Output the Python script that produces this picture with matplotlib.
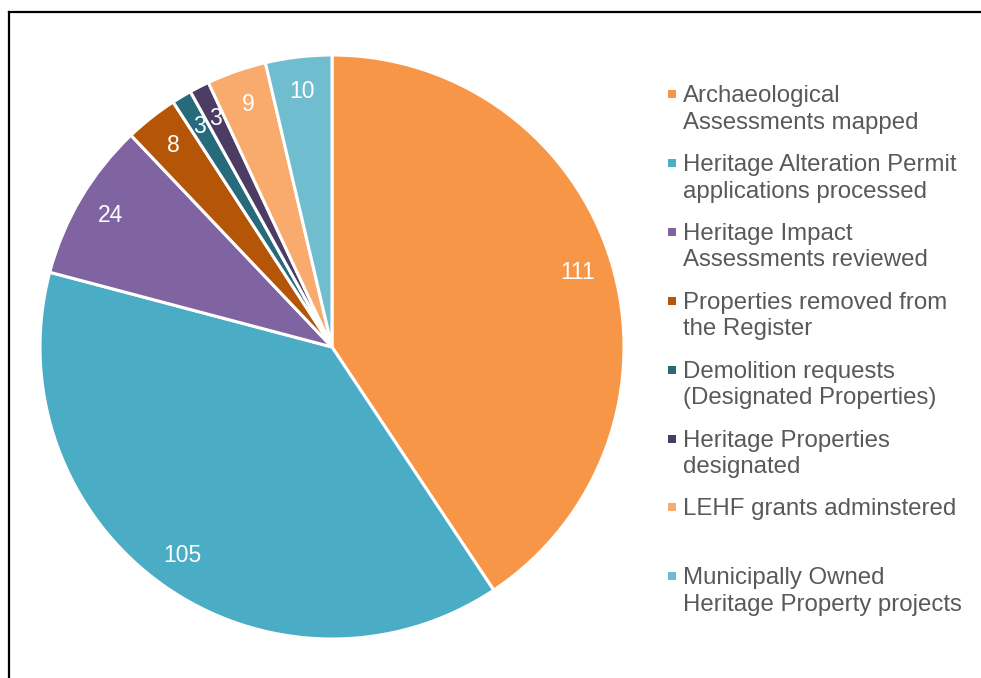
import matplotlib
matplotlib.use("Agg")
import matplotlib.pyplot as plt
from matplotlib.patches import Rectangle
from matplotlib.lines import Line2D

plt.rcParams['font.family'] = ['Liberation Sans', 'DejaVu Sans']

categories = [
    "Archaeological\nAssessments mapped",
    "Heritage Alteration Permit\napplications processed",
    "Heritage Impact\nAssessments reviewed",
    "Properties removed from\nthe Register",
    "Demolition requests\n(Designated Properties)",
    "Heritage Properties\ndesignated",
    "LEHF grants adminstered",
    "Municipally Owned\nHeritage Property projects",
]
values = [111, 105, 24, 8, 3, 3, 9, 10]
colors = ["#F79646", "#4BACC6", "#8064A2", "#B45507",
          "#276A7B", "#4C3B62", "#F8AB6D", "#71BDD0"]

W, H = 981, 678
fig = plt.figure(figsize=(W / 100, H / 100), dpi=100)

cx, cy, r = 332, 347, 292
ax = fig.add_axes([(cx - r) / W, (H - cy - r) / H, 2 * r / W, 2 * r / H])
total = sum(values)
wedges, texts, autotexts = ax.pie(
    values, colors=colors, startangle=90, counterclock=False,
    autopct=lambda p: f"{round(p * total / 100)}", pctdistance=0.88,
    wedgeprops=dict(edgecolor="white", linewidth=2.2),
    textprops=dict(color="white", fontsize=16.5),
)
ax.set_aspect('equal')
ax.set_xlim(-1, 1)
ax.set_ylim(-1, 1)

# legend (manual, markers aligned with first text line)
x_mark, x_text = 668, 683
y0, pitch, lstep = 102, 68.9, 26.7
for i, (lab, col) in enumerate(zip(categories, colors)):
    y = y0 + i * pitch
    fig.add_artist(Rectangle((x_mark / W, (H - y + 4) / H), 8 / W, 8 / H,
                             transform=fig.transFigure, facecolor=col,
                             edgecolor="none"))
    for j, line in enumerate(lab.split("\n")):
        fig.text(x_text / W, (H - y - j * lstep) / H, line, ha="left",
                 va="baseline", fontsize=17.3, color="#595959",
                 transform=fig.transFigure)

# frame lines (top and left)
fig.add_artist(Line2D([8.5 / W, 1], [(H - 11.5) / H] * 2, color="black",
                      linewidth=1.6, transform=fig.transFigure))
fig.add_artist(Line2D([8.5 / W] * 2, [0, (H - 11.5) / H], color="black",
                      linewidth=1.6, transform=fig.transFigure))

fig.savefig("out.png", dpi=100)
